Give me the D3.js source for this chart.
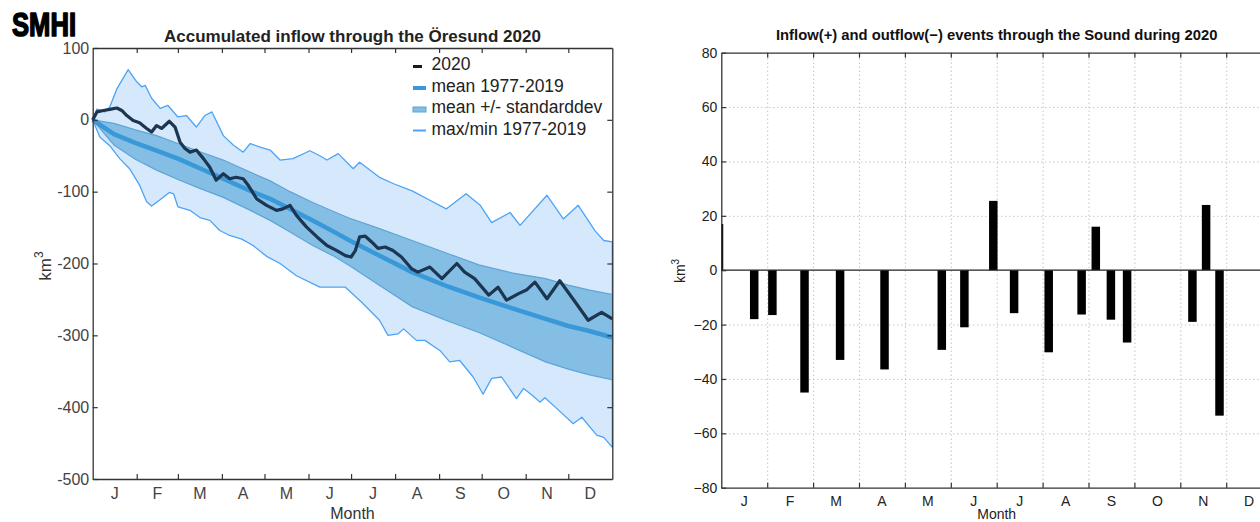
<!DOCTYPE html>
<html><head><meta charset="utf-8">
<script src="https://cdn.jsdelivr.net/npm/d3@7"></script>
<style>
body{margin:0;background:#fff;}
svg{display:block;font-family:"Liberation Sans",Arial,Helvetica,sans-serif;}
</style></head><body>
<svg id="c" width="1260" height="522"></svg>
<script>
// ---------- DATA ----------
const monthLabels = ["J","F","M","A","M","J","J","A","S","O","N","D"];
const monthStartDays = [0,31,60,91,121,152,182,213,244,274,305,335,366];
const yTicksLeft = [100,0,-100,-200,-300,-400,-500];
const yTicksRight = [80,60,40,20,0,-20,-40,-60,-80];
const legendLabels = ["2020","mean 1977-2019","mean +/- standarddev","max/min 1977-2019"];

// accumulated inflow 2020 (day of year, km3)
const days2020 = [0,3,7.5,12,17,20.5,24,28.5,33,38,41.5,45,48.5,54,58,61.5,65,68.5,73,78,82.5,87,92,96.5,101,106,109.5,115.5,122.5,129.5,134,139,143.5,150.5,158,165,172,178,182,185,188,192,196.5,201,206,211.5,217.5,224.5,229,237.5,246,256.5,262,269,279,285.5,291.5,300,305.5,311.5,320,329,340,349,358.5,366];
const vals2020 = [0,11,13,14.5,16.5,13,6,-1,-4,-12,-17,-8,-12,-2,-10,-31,-40,-45,-42,-54,-66,-84,-75,-82,-80,-82,-91,-110,-119,-126,-124,-119,-133,-149,-163,-175,-182,-189,-191,-182,-163,-162,-170,-179,-177,-182,-191,-207,-212,-205,-221,-200,-212,-221,-244,-233,-251,-242,-237,-226,-249,-224,-254,-279,-268,-277];

// max 1977-2019
const maxDays = [0,3,8.5,12,17,25,31,34.5,37,41.5,47.5,53,60,66,73,79,84,92,99,106,111,118,125,132,141,153,160,165,173,183.5,188,202,212,225,237.5,249,263,273,281,294,301,320,331.5,342,354,360,366];
const maxVals = [0,15,11,18,43,70,53,46,48,30,16,20,4,6,-10,6,11,-22,-35,-45,-33,-38,-42,-56,-54,-43,-50,-56,-47,-68,-59,-80,-89,-99,-112,-124,-103,-119,-143,-129,-147,-105,-138,-119,-155,-168,-170];

// min 1977-2019
const minDays = [0,5,12,19,26,33,38,41.5,47,54,57,60,68.5,75.5,82.5,89.5,96.5,105,113,122.5,132,143.5,160,178,190,202,208,215,219,228,234,244.5,251.5,258.5,268,275,281,288,298.5,303.5,310,315,318.5,327,338.5,344.5,355,360,366];
const minVals = [0,-24,-36,-54,-68,-91,-114,-120,-112,-101,-103,-121,-126,-136,-140,-154,-161,-166,-175,-190,-200,-217,-233,-233,-255,-279,-300,-298,-291,-307,-307,-321,-337,-335,-358,-382,-360,-358,-388,-374,-384,-393,-387,-402,-423,-414,-439,-442,-456];

// mean and +/- std 1977-2019
const statDays  = [0,15,30,45,60,75,92,110,125,139,155,170,181,200,225,250,272,295,319,335,350,366];
const meanVals  = [0,-20,-32,-43,-54,-67,-82,-98,-110,-124,-140,-156,-168,-187,-212,-232,-247,-262,-277,-287,-294,-303];
const stdUpper  = [0,-5,-14,-22,-33,-44,-56,-72,-85,-100,-115,-128,-137,-150,-168,-186,-202,-213,-221,-230,-237,-243];
const stdLower  = [0,-35,-55,-70,-83,-95,-108,-125,-140,-156,-175,-190,-203,-228,-260,-280,-296,-316,-337,-347,-355,-362];

// inflow/outflow events (position in months from 1 Jan, km3)
const eventMonths  = [-0.05,0.717,1.113,1.813,2.588,3.556,4.804,5.296,5.926,6.379,7.133,7.850,8.159,8.488,8.841,10.264,10.562,10.854];
const eventVolumes = [17,-18,-16.5,-45,-33,-36.5,-29.3,-21,25.5,-15.8,-30.2,-16.3,16,-18.2,-26.6,-19,24,-53.5];

// ---------- DRAW ----------
const svg = d3.select("#c");

// Logo
svg.append("text").attr("x",12).attr("y",36).attr("textLength",64).attr("lengthAdjust","spacingAndGlyphs")
  .style("font-family","'Liberation Sans Narrow','Liberation Sans',Arial,sans-serif").style("font-weight","bold").style("font-size","33px")
  .attr("fill","#000").attr("stroke","#000").attr("stroke-width",1.6).attr("stroke-linejoin","round").text("SMHI");

// ----- Left chart -----
const xL = d3.scaleLinear().domain([0,366]).range([92.7,612.3]);
const yL = d3.scaleLinear().domain([-500,100]).range([479,48]);
const L = svg.append("g");

const maxPts = maxDays.map((d,i)=>[xL(d),yL(maxVals[i])]);
const minPts = minDays.map((d,i)=>[xL(d),yL(minVals[i])]);
const env = maxPts.concat(minPts.slice().reverse());
const lineGen = d3.line();
L.append("path").attr("d",lineGen(env)+"Z").attr("fill","#d6e9fc").attr("stroke","#4da3f5").attr("stroke-width",1.3).attr("stroke-linejoin","round");

const stdArea = d3.area().x((d,i)=>xL(statDays[i])).y0((d,i)=>yL(stdLower[i])).y1((d,i)=>yL(stdUpper[i]));
L.append("path").attr("d",stdArea(statDays)).attr("fill","#85bee4").attr("stroke","#5fa4d6").attr("stroke-width",1.2);

const meanLine = d3.line().x((d,i)=>xL(statDays[i])).y((d,i)=>yL(meanVals[i]));
L.append("path").attr("d",meanLine(statDays)).attr("fill","none").attr("stroke","#3898d8").attr("stroke-width",4.5).attr("stroke-linejoin","round");

const line2020 = d3.line().x((d,i)=>xL(days2020[i])).y((d,i)=>yL(vals2020[i]));
L.append("path").attr("d",line2020(days2020)).attr("fill","none").attr("stroke","#1c3550").attr("stroke-width",3.2).attr("stroke-linejoin","round");

// axes
const axCol = "#333";
function styleAxis(g, fs, col){
  g.select(".domain").attr("stroke",axCol).attr("stroke-width",1.3);
  g.selectAll(".tick line").attr("stroke",axCol).attr("stroke-width",1.2);
  g.selectAll("text").style("font-size",fs).attr("fill",col).style("font-family","'Liberation Sans',Arial,sans-serif");
}
const innerTicks = monthStartDays.slice(1,12);
const gLy = L.append("g").attr("transform",`translate(${xL(0)},0)`)
  .call(d3.axisLeft(yL).tickValues(yTicksLeft).tickSize(-5).tickSizeOuter(0).tickPadding(3.5).tickFormat(d=>String(d)));
styleAxis(gLy,"16px","#444");
const gLr = L.append("g").attr("transform",`translate(${xL(366)},0)`)
  .call(d3.axisRight(yL).tickValues(yTicksLeft.slice(1,6)).tickSize(-5).tickSizeOuter(0).tickFormat(""));
styleAxis(gLr,"16px","#444");
const gLt = L.append("g").attr("transform",`translate(0,${yL(100)})`)
  .call(d3.axisTop(xL).tickValues(innerTicks).tickSize(-5).tickSizeOuter(0).tickFormat(""));
styleAxis(gLt,"16px","#444");
const gLb = L.append("g").attr("transform",`translate(0,${yL(-500)})`)
  .call(d3.axisBottom(xL).tickValues(innerTicks).tickSize(-5).tickSizeOuter(0).tickFormat(""));
styleAxis(gLb,"16px","#444");
// month labels
L.selectAll("text.ml").data(monthLabels).enter().append("text")
  .attr("x",(d,i)=>xL((monthStartDays[i]+monthStartDays[i+1])/2)).attr("y",499)
  .attr("text-anchor","middle").style("font-size","16px").attr("fill","#444").text(d=>d);
L.append("text").attr("x",xL(183)).attr("y",519).attr("text-anchor","middle").style("font-size","16px").attr("fill","#333").text("Month");
L.append("text").attr("x",xL(183)).attr("y",42).attr("text-anchor","middle").style("font-size","17px").style("font-weight","bold").attr("fill","#222").text("Accumulated inflow through the Öresund 2020");
const ylab = L.append("text").attr("transform","translate(51,266) rotate(-90)").attr("text-anchor","middle").style("font-size","17px").attr("fill","#333");
ylab.append("tspan").text("km");
ylab.append("tspan").attr("dy",-8).style("font-size","12px").text("3");

// legend
const lg = L.append("g");
const rowsY = [64,85.5,107,128.5];
legendLabels.forEach((t,i)=>{
  lg.append("text").attr("x",431.5).attr("y",rowsY[i]+6).style("font-size","17.5px").attr("fill","#222").text(t);
});
lg.append("line").attr("x1",413).attr("x2",422).attr("y1",rowsY[0]+2.5).attr("y2",rowsY[0]+2.5).attr("stroke","#1a1a1a").attr("stroke-width",3);
lg.append("line").attr("x1",413).attr("x2",426).attr("y1",rowsY[1]+2.5).attr("y2",rowsY[1]+2.5).attr("stroke","#3898d8").attr("stroke-width",4);
lg.append("rect").attr("x",413).attr("y",rowsY[2]).attr("width",13).attr("height",5).attr("fill","#85bee4").attr("stroke","#5fa4d6").attr("stroke-width",1);
lg.append("line").attr("x1",413).attr("x2",426).attr("y1",rowsY[3]+2).attr("y2",rowsY[3]+2).attr("stroke","#4da3f5").attr("stroke-width",2);

// ----- Right chart -----
const xR = d3.scaleLinear().domain([0,12]).range([721.3,1272.1]);
const yR = d3.scaleLinear().domain([-80,80]).range([487.7,52.7]);
const R = svg.append("g");
R.append("clipPath").attr("id","rc").append("rect").attr("x",xR(0)).attr("y",yR(80)).attr("width",xR(12)-xR(0)).attr("height",yR(-80)-yR(80));

// grid
const monthsIdx = d3.range(1,12);
R.append("g").attr("transform",`translate(0,${yR(-80)})`)
  .call(d3.axisBottom(xR).tickValues(monthsIdx).tickSize(-(yR(-80)-yR(80))).tickFormat(""))
  .call(g=>{g.select(".domain").remove(); g.selectAll("line").attr("stroke","#aaa").attr("stroke-dasharray","1,3");});
R.append("g").attr("transform",`translate(${xR(0)},0)`)
  .call(d3.axisLeft(yR).tickValues(yTicksRight.filter(v=>v!==0&&Math.abs(v)!==80)).tickSize(-(xR(12)-xR(0))).tickFormat(""))
  .call(g=>{g.select(".domain").remove(); g.selectAll("line").attr("stroke","#aaa").attr("stroke-dasharray","1,3");});

// bars
R.append("g").attr("clip-path","url(#rc)").selectAll("rect").data(eventVolumes).enter().append("rect")
  .attr("x",(d,i)=>xR(eventMonths[i])-4.25).attr("width",8.5)
  .attr("y",d=>yR(Math.max(0,d))).attr("height",d=>Math.abs(yR(d)-yR(0)))
  .attr("fill","#000");

// zero line
R.append("line").attr("x1",xR(0)).attr("x2",xR(12)).attr("y1",yR(0)).attr("y2",yR(0)).attr("stroke","#222").attr("stroke-width",1.2);

const fmtR = d=> d<0 ? "\u2212"+Math.abs(d) : String(d);
const gRy = R.append("g").attr("transform",`translate(${xR(0)},0)`)
  .call(d3.axisLeft(yR).tickValues(yTicksRight).tickSize(-5).tickSizeOuter(0).tickPadding(4).tickFormat(fmtR));
styleAxis(gRy,"14px","#222");
const gRb = R.append("g").attr("transform",`translate(0,${yR(-80)})`)
  .call(d3.axisBottom(xR).tickValues(monthsIdx).tickSize(-5).tickSizeOuter(0).tickFormat(""));
styleAxis(gRb,"14px","#222");
const gRt = R.append("g").attr("transform",`translate(0,${yR(80)})`)
  .call(d3.axisTop(xR).tickValues(monthsIdx).tickSize(-5).tickSizeOuter(0).tickFormat(""));
styleAxis(gRt,"14px","#222");
R.selectAll("text.mr").data(monthLabels).enter().append("text")
  .attr("x",(d,i)=>xR(i+0.5)).attr("y",506).attr("text-anchor","middle").style("font-size","14px").attr("fill","#222").text(d=>d);
R.append("text").attr("x",xR(6)).attr("y",519).attr("text-anchor","middle").style("font-size","14px").attr("fill","#222").text("Month");
R.append("text").attr("x",xR(6)).attr("y",40).attr("text-anchor","middle").style("font-size","14.8px").style("font-weight","bold").attr("fill","#111").text("Inflow(+) and outflow(\u2212) events through the Sound during 2020");
const ylabR = R.append("text").attr("transform","translate(685,271) rotate(-90)").attr("text-anchor","middle").style("font-size","14px").attr("fill","#222");
ylabR.append("tspan").text("km");
ylabR.append("tspan").attr("dy",-6).style("font-size","10px").text("3");
</script>
</body></html>
